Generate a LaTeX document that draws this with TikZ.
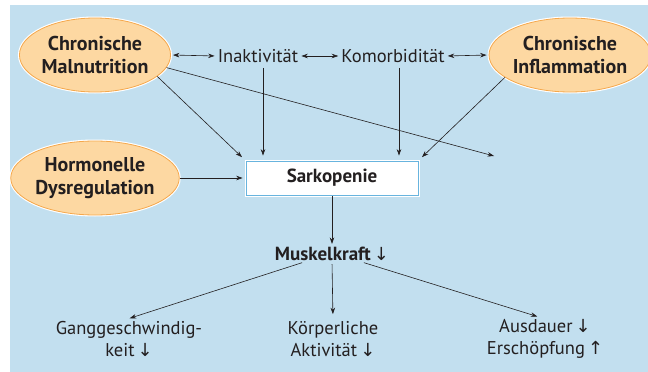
\documentclass[tikz,border=0pt]{standalone}
\usepackage{fontspec}
\setmainfont{PT Sans}
\newfontfamily\arrowfont{DejaVu Sans}
\usetikzlibrary{shapes.geometric, arrows.meta, positioning}

\definecolor{bgblue}{RGB}{194,223,239}
\definecolor{peach}{RGB}{253,216,162}
\definecolor{peachline}{RGB}{245,168,76}
\definecolor{boxline}{RGB}{104,180,222}
\definecolor{ink}{RGB}{35,31,32}

\newcommand{\down}{\,{\arrowfont\fontsize{18}{18}\selectfont\mdseries ↓}}
\newcommand{\up}{\,{\arrowfont\fontsize{18}{18}\selectfont\mdseries ↑}}

\begin{document}
\begin{tikzpicture}[
            x=1pt, y=-1pt,
            font=\fontsize{18.5}{22}\selectfont, text=ink,
            factor/.style  ={ellipse, fill=peach, draw=peachline, line width=0.8pt,
                             preaction={draw=white, line width=3pt},
                             minimum width=148pt, minimum height=74pt, align=center,
                             inner sep=0pt, font=\fontsize{20}{23}\selectfont\bfseries},
            center/.style  ={rectangle, fill=white, draw=boxline, line width=0.8pt,
                             preaction={draw=white, line width=3pt},
                             minimum width=172pt, minimum height=34pt,
                             font=\fontsize{19}{22}\selectfont\bfseries},
            effect/.style  ={align=center, inner sep=1pt},
            arrow/.style   ={-{Stealth[length=6.5pt, width=4.5pt]}, draw=ink, line width=0.6pt},
            both/.style    ={{Stealth[length=6.5pt, width=4.5pt]}-{Stealth[length=6.5pt, width=4.5pt]},
                             draw=ink, line width=0.6pt, shorten <=2pt, shorten >=2pt}
        ]
        \useasboundingbox (0,0) rectangle (648,372);
        \fill[bgblue] (10,5) rectangle (648,372);

        % Ursachen
        \node[factor] (maln) at (95,55)   {Chronische\\Malnutrition};
        \node[factor] (infl) at (570,55)  {Chronische\\Inflammation};
        \node[factor] (horm) at (95,178)  {Hormonelle\\Dysregulation};
        \node[effect] (inakt)  at (258,56) {Inaktivität};
        \node[effect] (komorb) at (393,56) {Komorbidität};

        % Sarkopenie und Folgen
        \node[center] (sark) at (332,178) {Sarkopenie};
        \node[effect, font=\fontsize{19}{22}\selectfont\bfseries] (musk) at (332,254) {Muskelkraft\down};
        \node[effect] (gang)  at (129,339) {Ganggeschwindig-\\keit\down};
        \node[effect] (koerp) at (333,339) {Körperliche\\Aktivität\down};
        \node[effect] (ausd)  at (545,339) {Ausdauer\down\\Erschöpfung\up};
        \coordinate (loose) at (494,156);

        \draw[both] (maln.east)    -- (inakt.west);
        \draw[both] (inakt.east)   -- (komorb.west);
        \draw[both] (komorb.east)  -- (infl.west);

        \draw[arrow, shorten >=5pt] (maln.-19)  -- (sark.north west);
        \draw[arrow] (maln.-10)  -- (loose);
        \draw[arrow, shorten >=5pt] (infl.-161) -- (sark.north east);
        \draw[arrow, shorten <=4pt, shorten >=5pt] ([xshift=5pt]inakt.south)  -- ([xshift=5pt]inakt.south |- sark.north);
        \draw[arrow, shorten <=4pt, shorten >=5pt] ([xshift=6pt]komorb.south) -- ([xshift=6pt]komorb.south |- sark.north);
        \draw[arrow, shorten >=3pt] (horm.east) -- (sark.west);

        \draw[arrow, shorten <=1pt, shorten >=2pt] (sark) -- (musk);
        \draw[arrow, shorten <=2pt, shorten >=6pt] ([xshift=-28pt]musk.south) -- ([xshift=-5pt]gang.north);
        \draw[arrow, shorten <=2pt, shorten >=6pt] (musk.south) -- (koerp.north);
        \draw[arrow, shorten <=2pt, shorten >=6pt] ([xshift=30pt]musk.south) -- ([xshift=-2pt]ausd.north);
        \end{tikzpicture}
\end{document}
